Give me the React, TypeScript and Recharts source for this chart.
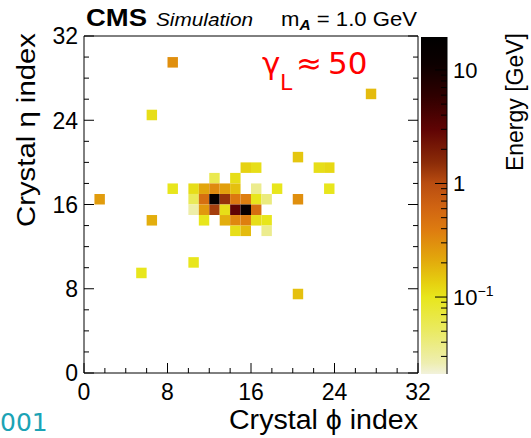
import { ComposedChart, ReferenceArea, Scatter, ScatterChart, XAxis, YAxis } from "recharts";

const FONT = "'Liberation Sans', Arial, Helvetica, sans-serif";

// crystal hits: phi index, eta index, deposited energy [GeV]
const hitPhi = [8, 27, 6, 20, 22, 23, 15, 16, 12, 14, 8, 10, 11, 12, 13, 14, 16, 18, 23, 1, 10, 11, 12, 13, 14, 15, 16, 17, 20, 10, 11, 12, 13, 14, 15, 16, 6, 11, 13, 14, 15, 16, 17, 14, 15, 17, 10, 5, 20];
const hitEta = [29, 26, 24, 20, 19, 19, 19, 19, 18, 18, 17, 17, 17, 17, 17, 17, 17, 17, 17, 16, 16, 16, 16, 16, 16, 16, 16, 16, 16, 15, 15, 15, 15, 15, 15, 15, 14, 14, 14, 14, 14, 14, 14, 13, 13, 13, 10, 9, 7];
const hitEnergy = [0.3, 0.17, 0.11, 0.15, 0.11, 0.12, 0.13, 0.11, 0.06, 0.11, 0.1, 0.11, 0.22, 0.32, 0.24, 0.16, 0.035, 0.1, 0.1, 0.25, 0.055, 0.5, 15, 1.4, 0.42, 0.38, 0.1, 0.04, 0.3, 0.028, 0.26, 1.2, 0.11, 3, 13, 0.5, 0.2, 0.1, 0.2, 0.33, 0.38, 0.11, 0.1, 0.11, 0.17, 0.035, 0.1, 0.1, 0.16];

const indexTicks = [0, 2, 4, 6, 8, 10, 12, 14, 16, 18, 20, 22, 24, 26, 28, 30, 32];
const energyTicks = [0.03, 0.04, 0.05, 0.06, 0.07, 0.08, 0.09, 0.1, 0.2, 0.3, 0.4, 0.5, 0.6, 0.7, 0.8, 0.9, 1, 2, 3, 4, 5, 6, 7, 8, 9, 10];
const energyMin = 0.021;
const energyMax = 19.5;

// colour palette along the log energy axis (0 = bottom, 1 = top)
const palette: [number, string][] = [
  [0, "#f2f2dc"],
  [0.033, "#eeeeb0"],
  [0.131, "#eaea60"],
  [0.228, "#e8e61c"],
  [0.27, "#e6d010"],
  [0.347, "#e2a40c"],
  [0.427, "#de7c10"],
  [0.495, "#d06412"],
  [0.567, "#b84c10"],
  [0.626, "#8c2c08"],
  [0.724, "#600404"],
  [0.822, "#300000"],
  [0.92, "#0c0000"],
  [1, "#000000"],
];

const rgb = (h: string) => [1, 3, 5].map((i) => parseInt(h.slice(i, i + 2), 16));

function energyColor(e: number) {
  const lo = Math.log10(energyMin);
  const hi = Math.log10(energyMax);
  const t = Math.min(1, Math.max(0, (Math.log10(e) - lo) / (hi - lo)));
  for (let i = 1; i < palette.length; i++) {
    if (t <= palette[i][0]) {
      const [t0, c0] = palette[i - 1];
      const [t1, c1] = palette[i];
      const f = (t - t0) / (t1 - t0);
      const a = rgb(c0);
      const b = rgb(c1);
      return `rgb(${a.map((v, k) => Math.round(v + (b[k] - v) * f)).join(",")})`;
    }
  }
  return "#000";
}

const hits = hitPhi.map((phi, i) => ({ phi, eta: hitEta[i], energy: hitEnergy[i] }));

const PhiTick = (props: any) => {
  const { x, y, payload, top } = props;
  const v = payload.value;
  const major = v % 8 === 0;
  const len = major ? 10 : 5;
  return (
    <g>
      <line x1={x} x2={x} y1={y} y2={top ? y + len : y - len} stroke="#000" />
      {!top && major && (
        <text x={x} y={y + 27} textAnchor="middle" fontSize={23} fontFamily={FONT} fill="#000">
          {v}
        </text>
      )}
    </g>
  );
};

const EtaTick = (props: any) => {
  const { x, y, payload, right } = props;
  const v = payload.value;
  const major = v % 8 === 0;
  const len = major ? 10 : 5;
  return (
    <g>
      <line x1={x} x2={right ? x - len : x + len} y1={y} y2={y} stroke="#000" />
      {!right && major && (
        <text x={x - 6} y={y} dy="0.36em" textAnchor="end" fontSize={23} fontFamily={FONT} fill="#000">
          {v}
        </text>
      )}
    </g>
  );
};

const EnergyTick = (props: any) => {
  const { x, y, payload } = props;
  const v = payload.value;
  const major = v === 0.1 || v === 1 || v === 10;
  return (
    <g>
      <line x1={x} x2={x - (major ? 12 : 6)} y1={y} y2={y} stroke="#000" />
      {major && (
        <text x={x + 6} y={y} dy="0.36em" fontSize={22} fontFamily={FONT} fill="#000">
          {v === 0.1 ? (
            <>
              10
              <tspan dy={-9} fontSize={14}>
                −1
              </tspan>
            </>
          ) : (
            v
          )}
        </text>
      )}
    </g>
  );
};

export default function App() {
  return (
    <div style={{ position: "absolute", left: 0, top: 0, width: 531, height: 438, background: "#fff" }}>
      <div style={{ position: "absolute", left: 0, top: 0 }}>
        <ScatterChart width={531} height={438} margin={{ top: 26, right: 103, bottom: 35, left: 40 }}>
          <XAxis
            type="number"
            dataKey="phi"
            domain={[0, 32]}
            ticks={indexTicks}
            interval={0}
            allowDataOverflow
            height={30}
            tickSize={0}
            tickMargin={0}
            axisLine={{ stroke: "#000" }}
            tick={(p: any) => <PhiTick {...p} />}
          />
          <XAxis
            xAxisId="top"
            orientation="top"
            type="number"
            domain={[0, 32]}
            ticks={indexTicks}
            interval={0}
            allowDataOverflow
            height={10}
            tickSize={0}
            tickMargin={0}
            axisLine={{ stroke: "#000" }}
            tick={(p: any) => <PhiTick {...p} top />}
          />
          <YAxis
            type="number"
            dataKey="eta"
            domain={[0, 32]}
            ticks={indexTicks}
            interval={0}
            allowDataOverflow
            width={44}
            tickSize={0}
            tickMargin={0}
            axisLine={{ stroke: "#000" }}
            tick={(p: any) => <EtaTick {...p} />}
          />
          <YAxis
            yAxisId="right"
            orientation="right"
            type="number"
            domain={[0, 32]}
            ticks={indexTicks}
            interval={0}
            allowDataOverflow
            width={10}
            tickSize={0}
            tickMargin={0}
            axisLine={{ stroke: "#000" }}
            tick={(p: any) => <EtaTick {...p} right />}
          />
          {hits.map((h, i) => (
            <ReferenceArea
              key={i}
              x1={h.phi}
              x2={h.phi + 1}
              y1={h.eta}
              y2={h.eta + 1}
              fill={energyColor(h.energy)}
              fillOpacity={1}
              stroke="none"
              ifOverflow="visible"
            />
          ))}
          <Scatter data={hits} dataKey="eta" shape={() => <g />} isAnimationActive={false} />
        </ScatterChart>
      </div>
      <div style={{ position: "absolute", left: 0, top: 0 }}>
        <ComposedChart width={531} height={438} margin={{ top: 37, right: 24, bottom: 64, left: 421 }} data={[{ x: 0 }, { x: 1 }]}>
          <defs>
            <linearGradient id="energyScale" x1="0" y1="1" x2="0" y2="0">
              {palette.map(([t, c]) => (
                <stop key={t} offset={t} stopColor={c} />
              ))}
            </linearGradient>
          </defs>
          <XAxis type="number" dataKey="x" domain={[0, 1]} hide />
          <YAxis
            orientation="right"
            type="number"
            scale="log"
            domain={[energyMin, energyMax]}
            ticks={energyTicks}
            interval={0}
            allowDataOverflow
            width={60}
            tickSize={0}
            tickMargin={0}
            axisLine={{ stroke: "#000" }}
            tick={(p: any) => <EnergyTick {...p} />}
          />
          <ReferenceArea
            x1={0}
            x2={1}
            y1={energyMin}
            y2={energyMax}
            fill="url(#energyScale)"
            fillOpacity={1}
            stroke="none"
            ifOverflow="visible"
          />
        </ComposedChart>
      </div>
      <svg width={531} height={438} style={{ position: "absolute", left: 0, top: 0 }}>
        <text x={86} y={26} fontFamily={FONT} fontWeight="bold" fontSize={24} textLength={61} lengthAdjust="spacingAndGlyphs">
          CMS
        </text>
        <text x={156} y={26} fontFamily={FONT} fontStyle="italic" fontSize={18} textLength={97} lengthAdjust="spacingAndGlyphs">
          Simulation
        </text>
        <text x={281} y={26} fontFamily={FONT} fontSize={20} textLength={136} lengthAdjust="spacingAndGlyphs">
          m
          <tspan dy={4} fontSize={14} fontWeight="bold" fontStyle="italic">
            A
          </tspan>
          <tspan dy={-4}> = 1.0 GeV</tspan>
        </text>
        <text y={74} fontFamily="'DejaVu Sans', sans-serif" fontSize={31} fill="#ff0000">
          <tspan x={262}>γ</tspan>
          <tspan x={280} y={90} fontSize={22}>
            L
          </tspan>
          <tspan x={296} y={74}>
            ≈
          </tspan>
          <tspan x={328}>50</tspan>
        </text>
        <text x={0} y={431} fontFamily="'DejaVu Sans', sans-serif" fontSize={25} fill="#1ba3b5">
          001
        </text>
        <text x={229} y={429} fontFamily={FONT} fontSize={27} textLength={189} lengthAdjust="spacingAndGlyphs">
          Crystal ϕ index
        </text>
        <text
          transform="translate(35,227) rotate(-90)"
          fontFamily={FONT}
          fontSize={26}
          textLength={194}
          lengthAdjust="spacingAndGlyphs"
        >
          Crystal η index
        </text>
        <text
          transform="translate(523,33) rotate(-90)"
          textAnchor="end"
          fontFamily={FONT}
          fontSize={23}
        >
          Energy [GeV]
        </text>
      </svg>
    </div>
  );
}
